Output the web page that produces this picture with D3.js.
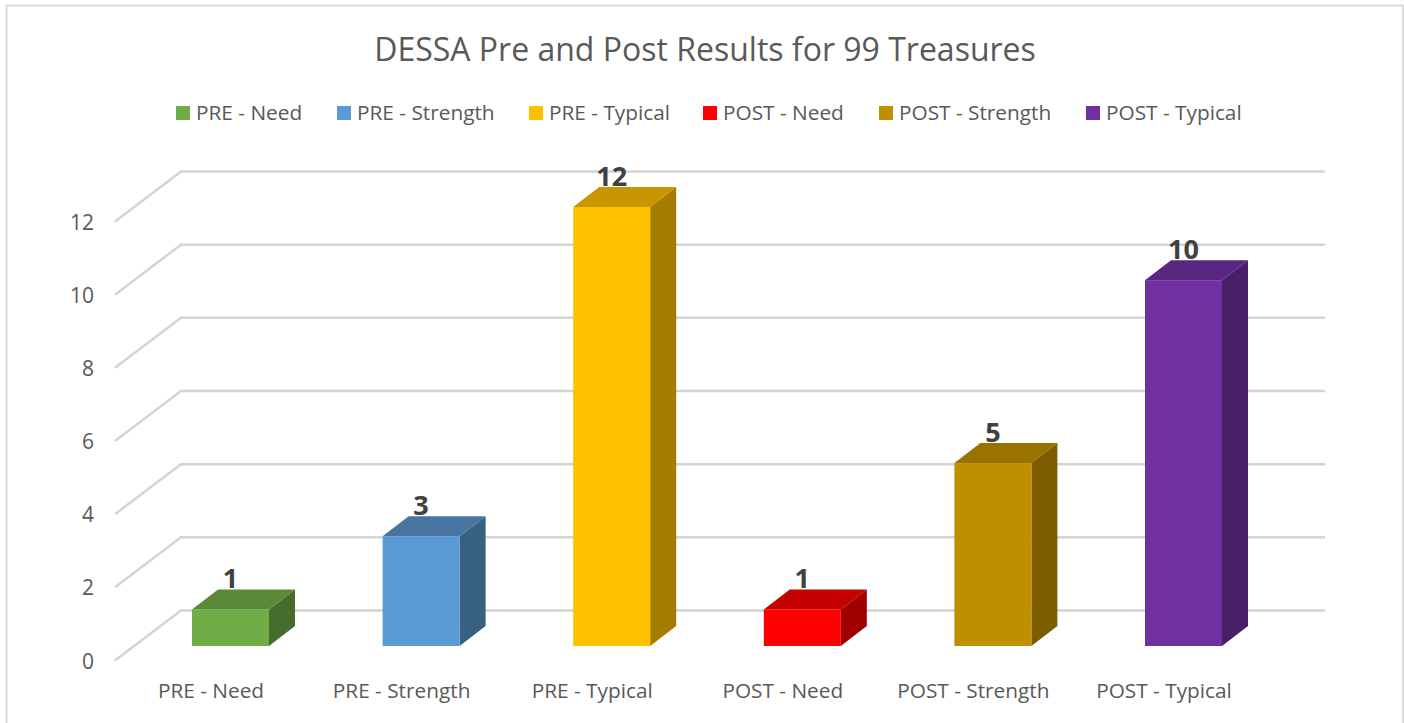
<!DOCTYPE html>
<html>
<head>
<meta charset="utf-8">
<script src="https://d3js.org/d3.v7.min.js"></script>
<style>
  html, body { margin: 0; padding: 0; background: #fff; overflow: hidden; }
  text { font-family: "Open Sans", sans-serif; fill: #595959; }
</style>
</head>
<body>
<div id="chart"></div>
<script>
var titleText = "DESSA Pre and Post Results for 99 Treasures";
var categories = ["PRE - Need", "PRE - Strength", "PRE - Typical", "POST - Need", "POST - Strength", "POST - Typical"];
var values = [1, 3, 12, 1, 5, 10];
var frontColors = ["#70ad47", "#5b9bd5", "#ffc000", "#ff0000", "#bf8f00", "#7030a0"];
var topColors = ["#5a8a39", "#4775a0", "#c89700", "#c40000", "#997200", "#592680"];
var sideColors = ["#466c2c", "#36617f", "#a67c00", "#a00000", "#7c5d00", "#491f68"];
var yTicks = [0, 2, 4, 6, 8, 10, 12];
var legendStarts = [176, 337, 529, 703, 879, 1086];

var width = 1404, height = 723;

var svg = d3.select("#chart").append("svg")
    .attr("width", width)
    .attr("height", height);

// chart frame, the bottom edge is cut off in the picture
svg.append("path")
    .attr("d", "M6.5," + height + "V5.5H1403V" + height)
    .attr("fill", "none")
    .attr("stroke", "#d9d9d9")
    .attr("stroke-width", 2);

svg.append("text")
    .attr("x", 705)
    .attr("y", 61)
    .attr("text-anchor", "middle")
    .style("font-size", "32px")
    .text(titleText);

// legend
var legend = svg.selectAll(".legend").data(categories).enter().append("g")
    .attr("class", "legend")
    .attr("transform", function(d, i) { return "translate(" + legendStarts[i] + ",106)"; });
legend.append("rect")
    .attr("width", 14)
    .attr("height", 14)
    .attr("fill", function(d, i) { return frontColors[i]; });
legend.append("text")
    .attr("x", 20)
    .attr("y", 14)
    .style("font-size", "20.8px")
    .text(function(d) { return d; });

// scales for the front plane of the bars
var x = d3.scaleBand()
    .domain(categories)
    .range([135.2, 1278.8])
    .paddingInner(0.596)
    .paddingOuter(0.298);

var y = d3.scaleLinear()
    .domain([0, 12])
    .range([646, 207]);

// bar depth and wall depth
var barDx = 26, barDy = -20;
var wallDx = 66, wallDy = -50;
var wallFrontX = 115, wallBackX = wallFrontX + wallDx, wallEndX = 1325;
// the left edge of the wall sits a little lower than the bars
var wallFrontOffset = 14.5;

var grid = svg.selectAll(".grid").data(yTicks).enter().append("path")
    .attr("class", "grid")
    .attr("fill", "none")
    .attr("stroke", "#d4d4d4")
    .attr("stroke-width", 2.5)
    .attr("d", function(d) {
        var y0 = y(d) + wallFrontOffset;
        return "M" + wallFrontX + "," + y0 +
            "L" + wallBackX + "," + (y0 + wallDy) +
            "H" + wallEndX;
    });

svg.selectAll(".ytick").data(yTicks).enter().append("text")
    .attr("class", "ytick")
    .attr("x", 94)
    .attr("y", function(d) { return y(d) + wallFrontOffset + 8; })
    .attr("text-anchor", "end")
    .style("font-size", "21px")
    .text(function(d) { return d; });

// 3d bars, one group per category
var bars = svg.selectAll(".bar").data(categories).enter().append("g")
    .attr("class", "bar");

bars.append("path")
    .attr("fill", function(d, i) { return sideColors[i]; })
    .attr("d", function(d, i) {
        var x1 = x(d) + x.bandwidth();
        return "M" + x1 + "," + y(values[i]) +
            "l" + barDx + "," + barDy +
            "V" + (y(0) + barDy) +
            "l" + (-barDx) + "," + (-barDy) + "Z";
    });

bars.append("path")
    .attr("fill", function(d, i) { return topColors[i]; })
    .attr("d", function(d, i) {
        return "M" + x(d) + "," + y(values[i]) +
            "l" + barDx + "," + barDy +
            "h" + x.bandwidth() +
            "l" + (-barDx) + "," + (-barDy) + "Z";
    });

bars.append("rect")
    .attr("x", function(d) { return x(d); })
    .attr("y", function(d, i) { return y(values[i]); })
    .attr("width", x.bandwidth())
    .attr("height", function(d, i) { return y(0) - y(values[i]); })
    .attr("fill", function(d, i) { return frontColors[i]; });

bars.append("text")
    .attr("x", function(d) { return x(d) + x.bandwidth() / 2; })
    .attr("y", function(d, i) { return y(values[i]) - 21; })
    .attr("text-anchor", "middle")
    .style("font-size", "27px")
    .style("font-weight", "bold")
    .style("fill", "#404040")
    .text(function(d, i) { return values[i]; });

// category labels sit left of the bars because of the 3d angle
svg.selectAll(".xlabel").data(categories).enter().append("text")
    .attr("class", "xlabel")
    .attr("x", function(d) { return x(d) + x.bandwidth() / 2 - 19.5; })
    .attr("y", 698)
    .attr("text-anchor", "middle")
    .style("font-size", "20.8px")
    .text(function(d) { return d; });
</script>
</body>
</html>
